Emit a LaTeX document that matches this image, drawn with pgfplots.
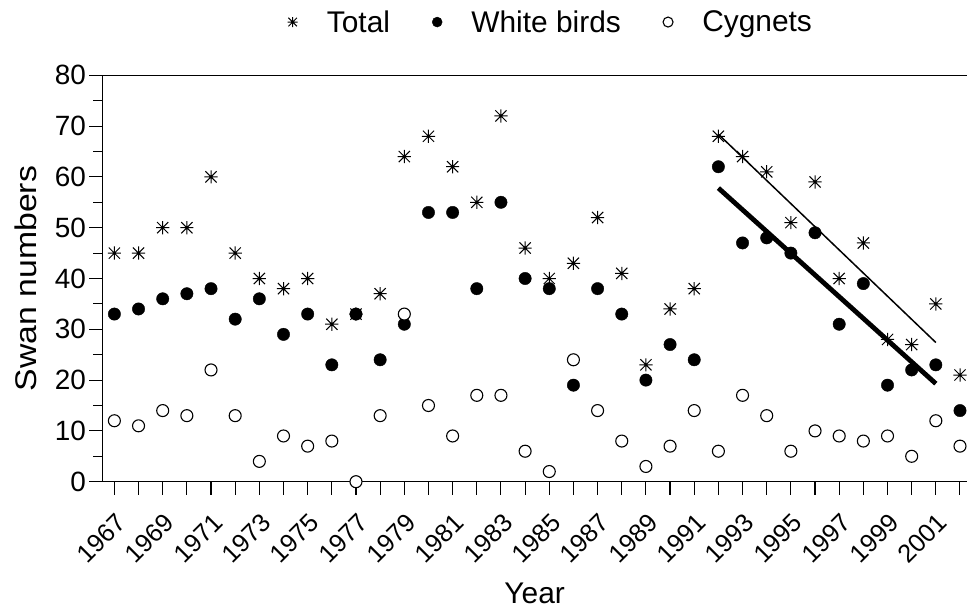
\documentclass[border=0pt]{standalone}
\usepackage{fontspec}
\setmainfont{Liberation Sans}
\usepackage{pgfplots}
\usepackage{pgfplotstable}
\pgfplotsset{compat=1.18}
\pgfdeclareplotmark{ast8}{%
 \pgfpathmoveto{\pgfqpoint{0pt}{\pgfplotmarksize}}\pgfpathlineto{\pgfqpoint{0pt}{-\pgfplotmarksize}}%
 \pgfpathmoveto{\pgfqpoint{\pgfplotmarksize}{0pt}}\pgfpathlineto{\pgfqpoint{-\pgfplotmarksize}{0pt}}%
 \pgfpathmoveto{\pgfqpoint{0.85\pgfplotmarksize}{0.85\pgfplotmarksize}}\pgfpathlineto{\pgfqpoint{-0.85\pgfplotmarksize}{-0.85\pgfplotmarksize}}%
 \pgfpathmoveto{\pgfqpoint{-0.85\pgfplotmarksize}{0.85\pgfplotmarksize}}\pgfpathlineto{\pgfqpoint{0.85\pgfplotmarksize}{-0.85\pgfplotmarksize}}%
 \pgfusepathqstroke}
\pgfplotstableread{
year total white cyg
1967 45 33 12
1968 45 34 11
1969 50 36 14
1970 50 37 13
1971 60 38 22
1972 45 32 13
1973 40 36 4
1974 38 29 9
1975 40 33 7
1976 31 23 8
1977 33 33 0
1978 37 24 13
1979 64 31 33
1980 68 53 15
1981 62 53 9
1982 55 38 17
1983 72 55 17
1984 46 40 6
1985 40 38 2
1986 43 19 24
1987 52 38 14
1988 41 33 8
1989 23 20 3
1990 34 27 7
1991 38 24 14
1992 68 62 6
1993 64 47 17
1994 61 48 13
1995 51 45 6
1996 59 49 10
1997 40 31 9
1998 47 39 8
1999 28 19 9
2000 27 22 5
2001 35 23 12
2002 21 14 7
}\swan
\begin{document}
\begin{tikzpicture}
\begin{axis}[
 scale only axis, width=864.7bp, height=406.4bp,
 xmin=1966.5, xmax=2002.29, ymin=0, ymax=80,
 axis x line=box, axis y line=left,
 x axis line style={-}, y axis line style={-},
 axis line style={line width=1.2bp, black},
 clip=false,
 xtick={1967,...,2002},
 xticklabels={1967,,1969,,1971,,1973,,1975,,1977,,1979,,1981,,1983,,1985,,1987,,1989,,1991,,1993,,1995,,1997,,1999,,2001,},
 ytick={0,10,...,80}, minor ytick={5,15,...,75},
 tick align=outside, xtick pos=bottom, ytick pos=left,
 major tick length=13bp, minor tick length=9bp,
 tick style={line width=1.1bp, black},
 /pgf/number format/assume math mode=true,
 yticklabel style={font=\fontsize{28}{31}\selectfont},
 xticklabel style={font=\fontsize{25.5}{28}\selectfont, xshift=-13bp, yshift=-44bp, rotate=45, anchor=center},
 xlabel={Year}, ylabel={\scalebox{1.13}[1]{Swan numbers}},
 label style={font=\fontsize{30}{33}\selectfont},
 xlabel style={at={(axis description cs:0.5,-0.2985)}, anchor=base},
 ylabel style={at={(axis description cs:-0.0882,0.5)}, anchor=center},
 legend columns=3,
 legend style={draw=none, fill=none, inner sep=0pt,
   at={(axis description cs:0.5145,1.131)}, anchor=center,
   font=\fontsize{30}{33}\selectfont,
   /tikz/every even column/.append style={column sep=33bp}},
 legend image code/.code={\path (-12bp,0bp) (32bp,0bp); \draw[#1, mark size=5bp] plot coordinates {(0bp,0bp)};},
]
\addplot[only marks, mark=ast8, mark size=6.6bp, mark options={line width=1bp, black}] table[x=year, y=total] {\swan};
\addlegendentry{Total}
\addplot[only marks, mark=*, mark size=6.2bp, mark options={fill=black, draw=black}] table[x=year, y=white] {\swan};
\addlegendentry{White birds}
\addplot[only marks, mark=*, mark size=6bp, mark options={fill=white, draw=black, line width=1.1bp}] table[x=year, y=cyg] {\swan};
\addlegendentry{Cygnets}
\addplot[forget plot, black, line width=1.5bp] coordinates {(1992,68.4) (2001,27.4)};
\addplot[forget plot, black, line width=4.8bp] coordinates {(1992,57.8) (2001,19.3)};
\coordinate (BL) at ([shift={(-102.3bp,-128.3bp)}]rel axis cs:0,0);
\coordinate (TR) at ([shift={(0bp,75.3bp)}]rel axis cs:1,1);
\end{axis}
\pgfresetboundingbox
\path[use as bounding box] (BL) rectangle (TR);
\end{tikzpicture}
\end{document}
